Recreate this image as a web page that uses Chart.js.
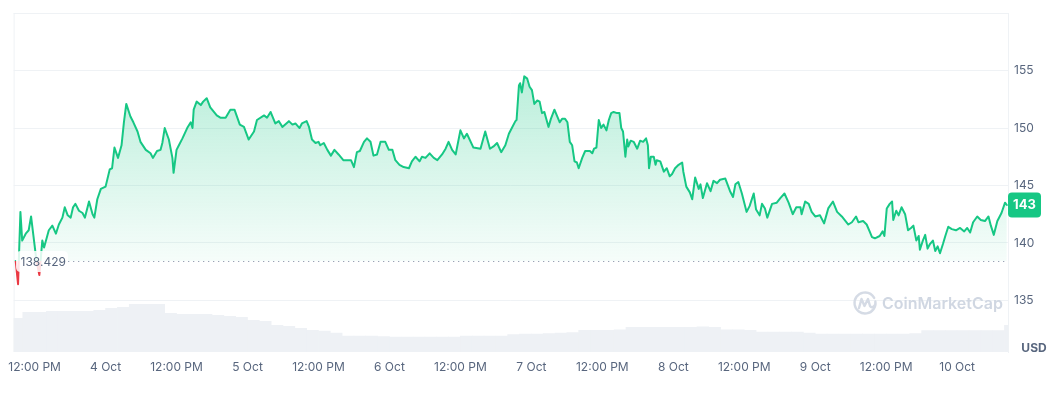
<!DOCTYPE html>
<html>
<head>
<meta charset="utf-8">
<title>SOL price chart</title>
<script src="https://cdn.jsdelivr.net/npm/chart.js@4.4.1/dist/chart.umd.min.js"></script>
<style>
  html, body { margin: 0; padding: 0; background: #ffffff; }
  #wrap { width: 1054px; height: 397px; position: relative; }
</style>
</head>
<body>
<div id="wrap"><canvas id="chart"></canvas></div>
<script>
// ---------- DATA ----------
// time = hours since 3 Oct 00:00
const priceHours = [
  8.8, 9.2, 9.6, 9.9, 10.5, 11.0, 11.4, 11.9, 12.3, 12.8, 13.3, 13.6, 14.4, 15.0, 15.6, 16.1, 16.7, 17.1, 17.6, 18.1,
  18.5, 18.9, 19.5, 20.1, 20.5, 21.2, 21.8, 22.1, 22.6, 23.2, 24.0, 24.7, 25.1, 25.5, 26.1, 26.7, 27.1, 27.5, 28.2, 28.7,
  29.4, 29.9, 30.8, 31.6, 32.0, 32.7, 33.3, 33.6, 34.0, 34.7, 35.3, 35.5, 36.0, 36.4, 37.0, 37.8, 38.4, 38.7, 38.9, 39.4,
  40.1, 40.5, 41.1, 41.7, 42.8, 43.4, 44.3, 45.1, 45.8, 46.7, 47.4, 48.2, 49.1, 49.6, 50.8, 51.3, 51.9, 52.7, 53.3, 53.9,
  55.0, 55.6, 56.1, 56.8, 57.2, 58.0, 58.4, 58.9, 59.5, 60.0, 60.3, 60.9, 61.5, 62.1, 62.7, 63.4, 64.2, 64.8, 65.5, 66.0,
  66.5, 67.0, 67.7, 68.2, 68.8, 69.3, 69.9, 70.5, 71.3, 71.9, 72.5, 73.0, 73.7, 74.4, 75.3, 75.8, 76.4, 77.1, 77.5, 78.1,
  78.8, 79.5, 80.1, 80.9, 81.5, 82.0, 82.6, 83.2, 84.0, 84.6, 85.1, 86.2, 87.4, 88.2, 89.0, 89.6, 90.2, 90.9, 91.6, 92.2,
  92.7, 93.3, 93.5, 93.9, 94.1, 94.4, 94.8, 95.3, 95.7, 96.1, 96.5, 97.0, 97.4, 97.8, 98.2, 98.9, 99.3, 99.9, 100.8, 101.2,
  101.7, 102.1, 102.5, 102.9, 103.3, 103.7, 104.0, 104.6, 105.1, 105.9, 106.3, 106.6, 107.0, 107.4, 107.8, 108.2, 108.7, 109.1, 109.5, 109.9,
  110.5, 110.9, 111.2, 111.5, 111.9, 112.2, 112.4, 112.8, 113.3, 113.9, 114.4, 114.9, 115.4, 115.7, 115.9, 116.2, 116.7, 117.0, 117.2, 117.8,
  118.4, 118.9, 119.4, 119.8, 120.3, 120.9, 121.5, 121.7, 122.2, 122.8, 123.2, 123.7, 124.3, 124.6, 125.0, 125.7, 126.3, 126.8, 127.4, 127.9,
  128.8, 129.6, 130.1, 130.5, 131.0, 131.6, 132.4, 132.9, 133.6, 134.0, 134.6, 135.0, 135.5, 135.9, 136.7, 137.5, 138.1, 138.8, 139.5, 140.2,
  140.8, 141.5, 141.7, 142.3, 142.9, 143.4, 144.0, 144.8, 145.5, 146.2, 147.0, 147.7, 148.5, 149.6, 150.2, 150.9, 151.3, 152.1, 152.7, 153.2,
  153.6, 154.1, 154.9, 155.4, 155.7, 156.1, 156.6, 157.0, 157.2, 157.7, 158.1, 158.6, 159.2, 159.7, 160.2, 160.6, 161.1, 161.5, 161.7, 162.2,
  162.6, 163.0, 163.4, 163.9, 164.3, 164.7, 165.1, 165.6, 166.0, 166.5, 167.1, 167.8, 168.5, 169.2, 169.7, 170.2, 170.7, 171.4, 172.0, 172.7,
  173.3, 173.7, 174.2, 174.8, 175.5, 176.1, 176.4
];
const prices = [
  138.43, 136.4, 142.7, 140.2, 140.8, 141.1, 142.3, 140.2, 138.5, 137.2, 140.2, 139.6, 141.1, 141.5, 140.8, 141.6, 142.2, 143.1, 142.4, 142.2,
  143.1, 143.4, 142.8, 142.6, 142.2, 143.6, 142.5, 142.2, 143.8, 144.7, 144.9, 146.4, 146.5, 148.3, 147.4, 148.5, 150.5, 152.1, 151.0, 150.5,
  149.7, 148.8, 148.1, 147.8, 147.4, 148.0, 148.1, 148.7, 150.0, 149.0, 147.4, 146.1, 148.1, 148.5, 149.1, 150.0, 150.5, 150.0, 151.6, 152.3,
  152.0, 152.3, 152.6, 151.8, 151.1, 150.9, 150.9, 151.6, 151.6, 150.3, 150.1, 149.0, 149.7, 150.7, 151.1, 150.9, 151.4, 150.4, 150.6, 150.1,
  150.6, 150.3, 150.4, 150.0, 150.4, 150.6, 150.1, 149.0, 148.7, 148.8, 148.5, 148.7, 148.1, 147.6, 148.1, 147.7, 147.2, 147.2, 147.2, 146.6,
  147.9, 148.0, 148.8, 149.1, 148.8, 147.6, 147.7, 148.8, 148.8, 148.1, 148.1, 147.2, 146.8, 146.6, 146.5, 147.1, 147.5, 147.1, 147.5, 147.4,
  147.8, 147.4, 147.2, 147.7, 148.2, 148.8, 148.1, 147.7, 149.8, 149.1, 149.5, 148.3, 148.2, 149.7, 148.2, 148.4, 148.7, 147.9, 148.5, 149.5,
  150.0, 150.6, 150.7, 153.7, 153.9, 153.1, 154.5, 154.3, 153.6, 153.3, 152.1, 152.4, 152.3, 151.3, 151.4, 150.1, 150.8, 151.6, 150.5, 150.8,
  150.8, 150.5, 148.8, 148.5, 147.1, 147.0, 146.5, 147.4, 148.0, 148.0, 147.8, 148.2, 148.3, 150.7, 150.0, 150.3, 149.8, 150.7, 151.3, 151.4,
  151.3, 151.3, 150.0, 149.7, 147.5, 149.0, 148.4, 148.9, 148.8, 148.2, 148.9, 148.8, 149.1, 148.5, 146.5, 147.5, 147.5, 146.8, 147.2, 147.1,
  146.2, 146.5, 145.8, 146.0, 146.5, 146.8, 147.0, 146.2, 144.9, 144.4, 143.8, 145.7, 144.7, 145.1, 143.9, 145.2, 144.5, 145.4, 145.2, 145.5,
  145.6, 144.5, 144.0, 145.1, 145.3, 144.3, 142.7, 143.2, 144.3, 142.9, 142.4, 143.4, 143.0, 142.2, 143.4, 143.5, 143.9, 144.3, 143.5, 142.5,
  143.1, 143.1, 142.5, 143.6, 143.4, 142.7, 142.3, 142.4, 141.7, 143.0, 143.6, 142.7, 142.3, 141.6, 141.8, 142.3, 141.8, 141.9, 141.6, 141.0,
  140.5, 140.4, 140.6, 141.0, 140.6, 143.0, 143.4, 143.6, 142.0, 142.8, 142.4, 143.1, 142.5, 141.1, 141.3, 141.5, 140.2, 140.6, 139.4, 140.2,
  140.7, 139.5, 139.9, 140.2, 139.3, 139.7, 139.1, 139.9, 140.6, 141.4, 141.2, 141.1, 141.3, 141.0, 141.3, 140.9, 141.8, 142.3, 142.0, 141.9,
  142.3, 141.5, 140.7, 141.9, 142.6, 143.5, 143.3
];
const volumeHours = [
  9, 11, 13, 15, 17, 19, 21, 23, 25, 27, 29, 31, 33, 35, 37, 39, 41, 43, 45, 47,
  49, 51, 53, 55, 57, 59, 61, 63, 65, 67, 69, 71, 73, 75, 77, 79, 81, 83, 85, 87,
  89, 91, 93, 95, 97, 99, 101, 103, 105, 107, 109, 111, 113, 115, 117, 119, 121, 123, 125, 127,
  129, 131, 133, 135, 137, 139, 141, 143, 145, 147, 149, 151, 153, 155, 157, 159, 161, 163, 165, 167,
  169, 171, 173, 175, 177
];
// 24h volume, million USD (relative scale)
const volumes = [
  680, 800, 800, 820, 820, 820, 820, 840, 880, 900, 960, 960, 960, 780, 760, 760, 760, 740, 720, 700,
  640, 620, 540, 520, 480, 440, 420, 380, 320, 320, 320, 310, 300, 300, 300, 300, 300, 300, 320, 320,
  320, 320, 350, 360, 360, 370, 380, 390, 440, 440, 440, 450, 500, 500, 500, 500, 500, 500, 510, 500,
  450, 450, 440, 400, 400, 400, 400, 380, 360, 360, 360, 360, 360, 360, 360, 360, 370, 430, 430, 430,
  430, 430, 430, 430, 540
];
const xTickHours = [12, 24, 36, 48, 60, 72, 84, 96, 108, 120, 132, 144, 156, 168];
const xTickLabels = ['12:00 PM', '4 Oct', '12:00 PM', '5 Oct', '12:00 PM', '6 Oct', '12:00 PM', '7 Oct',
                     '12:00 PM', '8 Oct', '12:00 PM', '9 Oct', '12:00 PM', '10 Oct'];
const yTickValues = [135, 140, 145, 150, 155];
const baselinePrice = 138.429;
const currencyLabel = 'USD';
const watermarkText = 'CoinMarketCap';

// ---------- STYLE ----------
const GREEN = '#16c784';
const RED = '#ea3943';
const GRID = '#eff2f5';
const TEXT = '#58667e';
Chart.defaults.font.family = "Inter, 'Noto Sans', 'DejaVu Sans', sans-serif";

function lineGradient(ctx, kind) {
  const chart = ctx.chart;
  const ca = chart.chartArea;
  if (!ca) return kind === 'fill' ? 'rgba(22,199,132,0.15)' : GREEN;
  const ys = chart.scales.y;
  const H = ca.bottom - ca.top;
  const f = v => Math.min(1, Math.max(0, (ys.getPixelForValue(v) - ca.top) / H));
  const fb = f(baselinePrice);
  const g = chart.ctx.createLinearGradient(0, ca.top, 0, ca.bottom);
  if (kind === 'fill') {
    g.addColorStop(0, 'rgba(22,199,132,0.32)');
    g.addColorStop(f(155), 'rgba(22,199,132,0.30)');
    g.addColorStop(fb, 'rgba(22,199,132,0.04)');
    g.addColorStop(fb, 'rgba(234,57,67,0.25)');
    g.addColorStop(f(136.3), 'rgba(234,57,67,0.9)');
    g.addColorStop(1, 'rgba(234,57,67,0.9)');
  } else {
    g.addColorStop(0, GREEN);
    g.addColorStop(fb, GREEN);
    g.addColorStop(fb, RED);
    g.addColorStop(1, RED);
  }
  return g;
}

function roundRect(c, x, y, w, h, r) {
  c.beginPath();
  c.moveTo(x + r, y);
  c.lineTo(x + w - r, y);
  c.quadraticCurveTo(x + w, y, x + w, y + r);
  c.lineTo(x + w, y + h - r);
  c.quadraticCurveTo(x + w, y + h, x + w - r, y + h);
  c.lineTo(x + r, y + h);
  c.quadraticCurveTo(x, y + h, x, y + h - r);
  c.lineTo(x, y + r);
  c.quadraticCurveTo(x, y, x + r, y);
  c.closePath();
}

const overlayPlugin = {
  id: 'overlay',
  beforeDatasetsDraw(chart) {
    const c = chart.ctx, ca = chart.chartArea;
    c.save();
    // left frame line
    c.strokeStyle = GRID;
    c.lineWidth = 1;
    c.beginPath();
    c.moveTo(ca.left + 0.5, ca.top);
    c.lineTo(ca.left + 0.5, ca.bottom);
    c.stroke();
    // watermark
    const cx = 865, cy = 303;
    c.strokeStyle = '#d5dbe5';
    c.lineWidth = 2.4;
    c.lineCap = 'round';
    c.lineJoin = 'round';
    c.beginPath();
    c.arc(cx, cy, 10.5, -0.05 * Math.PI, 1.95 * Math.PI - 0.35);
    c.stroke();
    c.beginPath();
    c.moveTo(cx - 6, cy + 5);
    c.lineTo(cx - 3.5, cy - 4);
    c.lineTo(cx - 0.5, cy + 3);
    c.lineTo(cx + 3, cy - 4);
    c.lineTo(cx + 5, cy + 3);
    c.quadraticCurveTo(cx + 7, cy + 6, cx + 10, cy + 2);
    c.stroke();
    c.fillStyle = '#d0d7e2';
    c.font = "600 16px Inter, 'Noto Sans', sans-serif";
    c.textAlign = 'left';
    c.textBaseline = 'alphabetic';
    c.fillText(watermarkText, 882, 309);
    c.restore();
  },
  afterDatasetsDraw(chart) {
    const c = chart.ctx, ca = chart.chartArea;
    const ys = chart.scales.y;
    const yb = Math.round(ys.getPixelForValue(baselinePrice)) + 0.5;
    c.save();
    // dotted baseline
    c.strokeStyle = '#9aa3b5';
    c.lineWidth = 1.2;
    c.setLineDash([1.3, 3.7]);
    c.beginPath();
    c.moveTo(68, yb);
    c.lineTo(ca.right, yb);
    c.stroke();
    c.setLineDash([]);
    // baseline label
    c.fillStyle = 'rgba(255,255,255,0.85)';
    roundRect(c, 16, yb - 10.5, 52, 21, 5);
    c.fill();
    c.fillStyle = TEXT;
    c.font = "12px Inter, 'Noto Sans', sans-serif";
    c.textAlign = 'left';
    c.textBaseline = 'middle';
    c.fillText(String(baselinePrice), 20.5, yb + 0.5);
    // last price badge
    const last = prices[prices.length - 1];
    const yl = ys.getPixelForValue(last);
    c.fillStyle = GREEN;
    roundRect(c, ca.right, yl - 12.5, 33, 25, 4);
    c.fill();
    c.fillStyle = '#ffffff';
    c.font = "bold 13px Inter, 'Noto Sans', sans-serif";
    c.textAlign = 'center';
    c.fillText(String(Math.round(last)), ca.right + 16.5, yl + 0.5);
    // currency label
    c.fillStyle = TEXT;
    c.font = "bold 12px Inter, 'Noto Sans', sans-serif";
    c.fillText(currencyLabel, 1034, 348);
    c.restore();
  }
};

const priceData = priceHours.map((h, i) => ({ x: h, y: prices[i] }));
const volumeData = volumeHours.map((h, i) => ({ x: h, y: volumes[i] }));

new Chart(document.getElementById('chart'), {
  data: {
    datasets: [
      {
        type: 'line',
        label: 'Price',
        data: priceData,
        yAxisID: 'y',
        order: 0,
        borderWidth: 2,
        borderColor: ctx => lineGradient(ctx, 'line'),
        backgroundColor: ctx => lineGradient(ctx, 'fill'),
        fill: { target: { value: baselinePrice } },
        pointRadius: 0,
        pointHoverRadius: 0,
        tension: 0,
        borderJoinStyle: 'round',
        borderCapStyle: 'round'
      },
      {
        type: 'bar',
        label: 'Volume',
        data: volumeData,
        yAxisID: 'yVol',
        order: 1,
        backgroundColor: '#eef1f5',
        borderWidth: 0,
        barPercentage: 1,
        categoryPercentage: 1
      }
    ]
  },
  options: {
    responsive: true,
    maintainAspectRatio: false,
    animation: false,
    events: [],
    layout: { padding: { left: 13, top: 10, right: 0, bottom: 0 } },
    plugins: {
      legend: { display: false },
      tooltip: { enabled: false }
    },
    scales: {
      x: {
        type: 'linear',
        offset: false,
        min: 8.45,
        max: 176.6,
        grid: { display: false, drawTicks: false, offset: false },
        border: { display: false },
        afterBuildTicks: s => { s.ticks = xTickHours.map(v => ({ value: v })); },
        afterFit: s => { s.height = 45; },
        ticks: {
          autoSkip: false,
          maxRotation: 0,
          padding: 8,
          color: TEXT,
          font: { size: 12 },
          callback: v => xTickLabels[xTickHours.indexOf(v)]
        }
      },
      y: {
        type: 'linear',
        position: 'right',
        min: 130.5,
        max: 160,
        afterBuildTicks: s => { s.ticks = yTickValues.concat([160]).map(v => ({ value: v })); },
        afterFit: s => { s.width = 46; },
        grid: { color: GRID, drawTicks: false },
        border: { display: true, color: GRID },
        ticks: {
          padding: 6,
          color: TEXT,
          font: { size: 12 },
          callback: v => (yTickValues.includes(v) ? String(v) : '')
        }
      },
      yVol: {
        type: 'linear',
        display: false,
        min: 0,
        max: 6840
      }
    }
  },
  plugins: [overlayPlugin]
});
</script>
</body>
</html>
